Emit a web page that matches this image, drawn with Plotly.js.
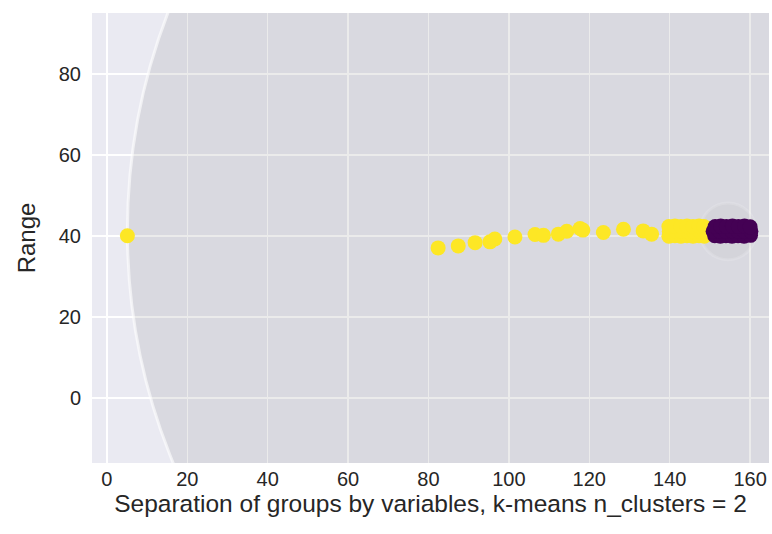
<!DOCTYPE html>
<html>
<head>
<meta charset="utf-8">
<script src="https://cdn.plot.ly/plotly-3.0.1.min.js"></script>
<style>html,body{margin:0;padding:0;background:#fff;}#chart{width:772px;height:534px;}</style>
</head>
<body>
<div id="chart"></div>
<script>
// Cluster 1 (yellow) points
const yellowX = [5.1, 82.4, 87.4, 91.6, 95.3, 96.5, 101.5, 106.5, 108.6, 112.3, 114.4, 117.7, 118.4, 123.5, 128.5, 133.4, 135.5,
  139.8, 141.3, 142.8, 144.3, 145.8, 147.3, 148.6,
  139.9, 141.4, 142.9, 144.4, 145.9, 147.4, 148.7,
  139.8, 141.3, 142.8, 144.3, 145.8, 147.3, 148.5];
const yellowY = [40.1, 37.1, 37.6, 38.4, 38.6, 39.3, 39.8, 40.4, 40.2, 40.5, 41.2, 41.9, 41.5, 40.9, 41.7, 41.3, 40.5,
  40.0, 40.1, 40.0, 40.1, 40.0, 40.1, 40.0,
  41.2, 41.3, 41.2, 41.3, 41.2, 41.3, 41.2,
  42.4, 42.5, 42.4, 42.5, 42.4, 42.5, 42.4];
// Cluster 0 (purple) points
const purpleX = [151.2, 152.6, 154.0, 155.5, 157.0, 158.5, 160.1,
  150.8, 152.4, 154.0, 155.5, 157.0, 158.5, 160.2,
  151.3, 152.7, 154.1, 155.6, 157.1, 158.6, 160.0];
const purpleY = [40.1, 40.0, 40.1, 40.0, 40.1, 40.0, 40.2,
  41.2, 41.3, 41.2, 41.3, 41.2, 41.3, 41.2,
  42.4, 42.5, 42.4, 42.5, 42.4, 42.5, 42.3];
// Circles around the cluster centre
const circleCenter = [154.5, 41.2];
const circleRadii = [149.4, 7.0];
const xTicks = [0, 20, 40, 60, 80, 100, 120, 140, 160];
const yTicks = [0, 20, 40, 60, 80];

const shapes = [
  {type:'circle', xref:'x', yref:'y', layer:'between',
   x0: circleCenter[0]-circleRadii[0], x1: circleCenter[0]+circleRadii[0],
   y0: circleCenter[1]-circleRadii[0], y1: circleCenter[1]+circleRadii[0],
   fillcolor:'rgba(128,128,128,0.16)', line:{color:'rgba(255,255,255,0.6)', width:3}},
  {type:'circle', xref:'x', yref:'y', layer:'between',
   x0: circleCenter[0]-circleRadii[1], x1: circleCenter[0]+circleRadii[1],
   y0: circleCenter[1]-circleRadii[1], y1: circleCenter[1]+circleRadii[1],
   fillcolor:'rgba(128,128,128,0.06)', line:{color:'rgba(255,255,255,0.15)', width:3}}
];

const traces = [
  {x: yellowX, y: yellowY, type:'scatter', mode:'markers', marker:{color:'#FDE725', size:15}, hoverinfo:'skip'},
  {x: purpleX, y: purpleY, type:'scatter', mode:'markers', marker:{color:'#440154', size:15}, hoverinfo:'skip'}
];

const font = {family:'"Liberation Sans", Arial, sans-serif', color:'#262626'};
const layout = {
  width:772, height:534,
  margin:{l:92, r:3, t:13, b:71},
  paper_bgcolor:'#ffffff', plot_bgcolor:'#EAEAF2',
  showlegend:false,
  font: Object.assign({size:20}, font),
  xaxis:{range:[-3.7, 164.7], tickvals:xTicks, ticktext:xTicks.map(String), showgrid:true, gridcolor:'#ffffff', gridwidth:1.5,
         zeroline:false, showline:false, ticks:'', ticklabelstandoff:2, tickfont:Object.assign({size:20}, font),
         title:{text:'Separation of groups by variables, k-means n_clusters = 2', font:Object.assign({size:24.5}, font), standoff:0}},
  yaxis:{range:[-16.0, 95.1], tickvals:yTicks, ticktext:yTicks.map(String), showgrid:true, gridcolor:'#ffffff', gridwidth:1.5,
         zeroline:false, showline:false, ticks:'', ticklabelstandoff:10, tickfont:Object.assign({size:20}, font),
         title:{text:'Range', font:Object.assign({size:24}, font), standoff:16}},
  shapes: shapes
};
Plotly.newPlot('chart', traces, layout, {displayModeBar:false, staticPlot:true});
</script>
</body>
</html>
